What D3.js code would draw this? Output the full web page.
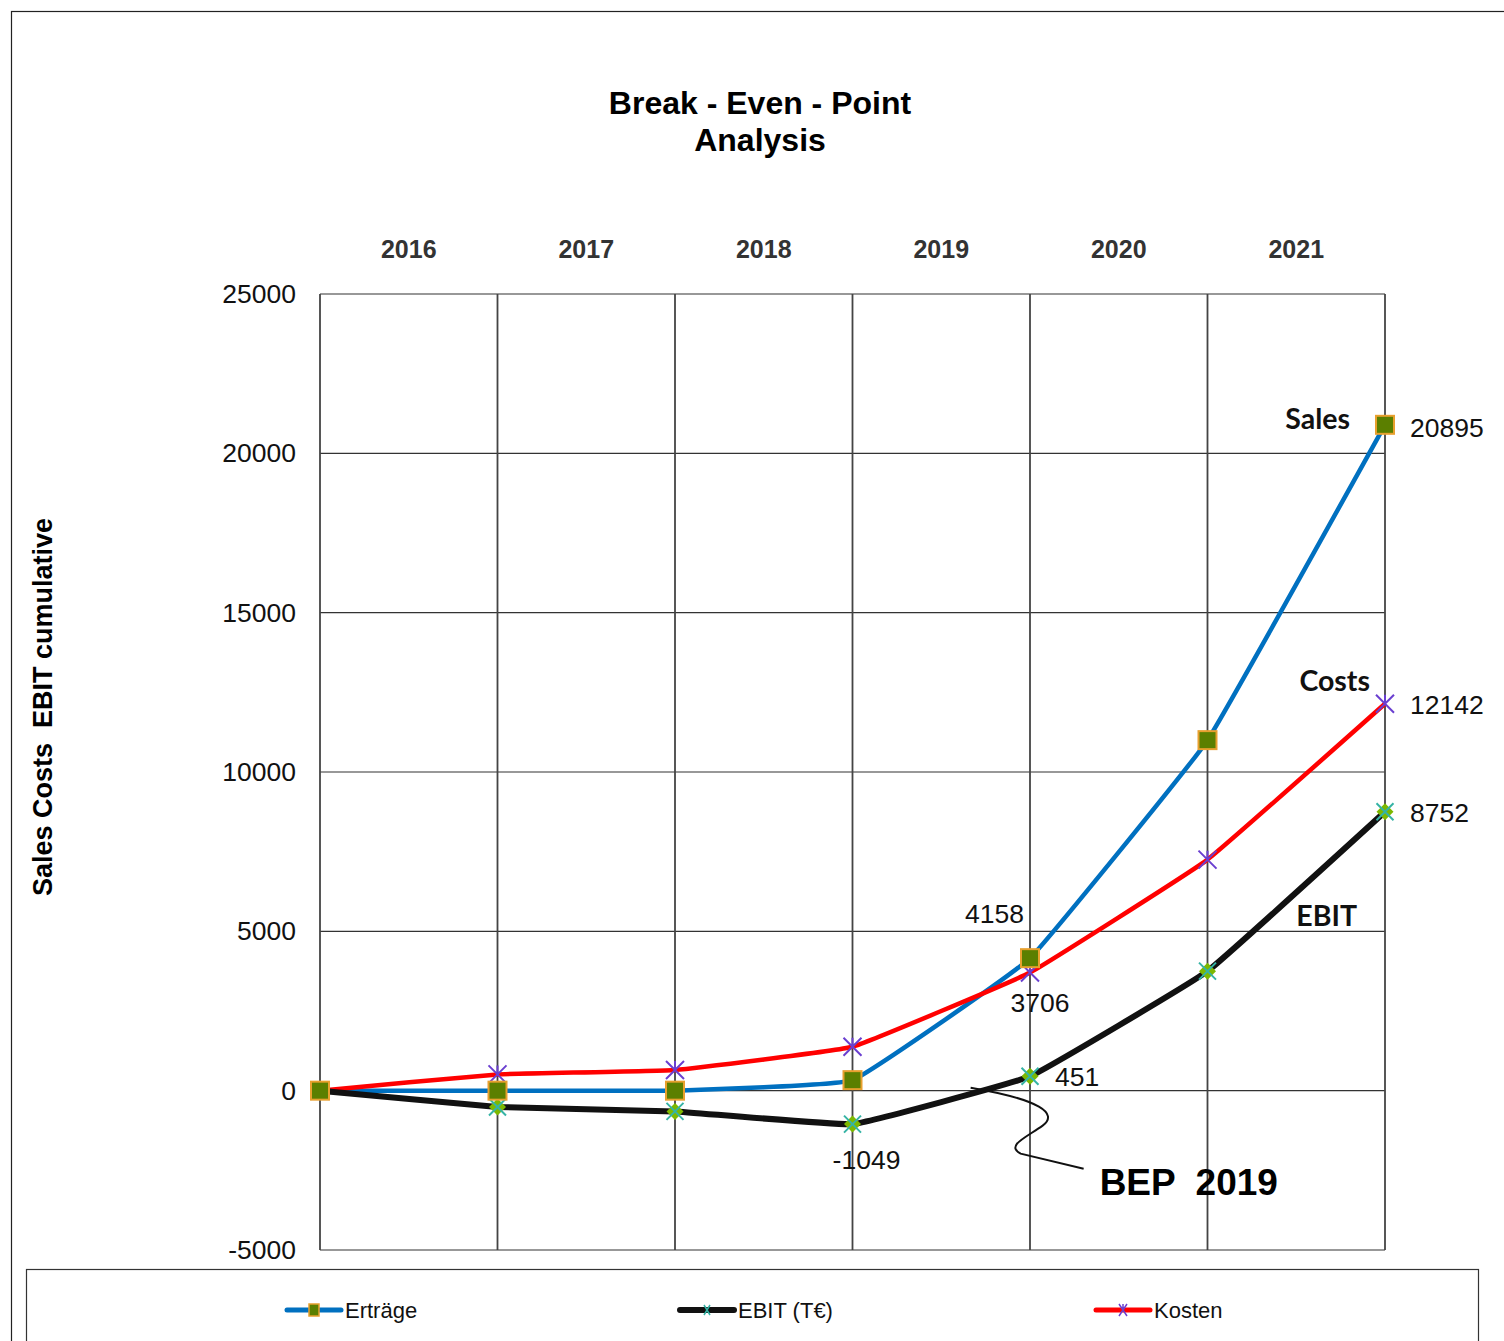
<!DOCTYPE html>
<html><head><meta charset="utf-8">
<script src="https://cdn.jsdelivr.net/npm/d3@7"></script>
<style>
html,body{margin:0;padding:0;background:#fff;}
svg{display:block;font-family:"Liberation Sans",Arial,sans-serif;}
</style></head>
<body>
<svg id="chart" width="1504" height="1341"></svg>
<script>
// ---- data ----
const years = ["2016","2017","2018","2019","2020","2021"];
const points = [0,1,2,3,4,5,6];           // cumulative points at period boundaries
const sales  = [0, 0, 0, 330, 4158, 11000, 20895];   // Erträge
const ebit   = [0, -510, -650, -1049, 451, 3750, 8752]; // EBIT (T€)
const costs  = [0, 510, 650, 1379, 3706, 7250, 12142]; // Kosten
const yTicks = [-5000, 0, 5000, 10000, 15000, 20000, 25000];
const legendNames = ["Erträge", "EBIT (T€)", "Kosten"];

const svg = d3.select("#chart");
const W = 1504, H = 1341;
const L = 320, R = 1385, T = 294, B = 1250;

// outer frame
svg.append("rect").attr("x",11.5).attr("y",11.5).attr("width",W).attr("height",H)
  .attr("fill","none").attr("stroke","#222").attr("stroke-width",1.2);

const x = d3.scaleLinear().domain([0,6]).range([L,R]);
const y = d3.scaleLinear().domain([-5000,25000]).range([B,T]);

// title
svg.append("text").attr("x",760).attr("y",114).attr("text-anchor","middle")
  .attr("font-size",32).attr("font-weight","bold").text("Break - Even - Point");
svg.append("text").attr("x",760).attr("y",151).attr("text-anchor","middle")
  .attr("font-size",32).attr("font-weight","bold").text("Analysis");

// gridlines
const grid = svg.append("g");
grid.selectAll("line.h").data(yTicks).join("line")
  .attr("x1",L).attr("x2",R).attr("y1",d=>y(d)).attr("y2",d=>y(d))
  .attr("stroke","#333").attr("stroke-width",1.2);
grid.selectAll("line.v").data(points).join("line")
  .attr("y1",T).attr("y2",B).attr("x1",d=>x(d)).attr("x2",d=>x(d))
  .attr("stroke","#444").attr("stroke-width",1.8);

// y axis labels
const yAxis = d3.axisLeft(y).tickValues(yTicks).tickSize(0).tickPadding(24).tickFormat(d=>String(d));
const ya = svg.append("g").attr("transform",`translate(${L},0)`).call(yAxis);
ya.select(".domain").remove();
ya.selectAll("text").attr("font-size",26.5).attr("font-family","Liberation Sans, Arial, sans-serif").attr("fill","#111");

// year labels (top)
svg.append("g").selectAll("text").data(years).join("text")
  .attr("x",(d,i)=>x(i+0.5)).attr("y",258).attr("text-anchor","middle")
  .attr("font-size",25).attr("font-weight","bold").attr("fill","#333").text(d=>d);

// y title
svg.append("text").attr("transform","translate(52,707) rotate(-90)")
  .attr("text-anchor","middle").attr("font-size",27).attr("font-weight","bold")
  .style("white-space","pre").text("Sales Costs  EBIT cumulative");

// lines
const line = d3.line().x((d,i)=>x(i)).y(d=>y(d)).curve(d3.curveCardinal.tension(0.75));
svg.append("path").datum(sales).attr("d",line).attr("fill","none").attr("stroke","#0070C0").attr("stroke-width",4.5);
svg.append("path").datum(costs).attr("d",line).attr("fill","none").attr("stroke","#FF0000").attr("stroke-width",4.5);
svg.append("path").datum(ebit).attr("d",line).attr("fill","none").attr("stroke","#111").attr("stroke-width",6);

// markers
function square(g, cx, cy, s){
  g.append("rect").attr("x",cx-s/2).attr("y",cy-s/2).attr("width",s).attr("height",s)
   .attr("fill","#5B7F00").attr("stroke","#E8A02E").attr("stroke-width",2);
}
function star(g, cx, cy, s){
  const h=s/2;
  g.append("path").attr("d",`M${cx-h},${cy-h}L${cx+h},${cy+h}M${cx-h},${cy+h}L${cx+h},${cy-h}M${cx},${cy-h}L${cx},${cy+h*0.2}`)
   .attr("stroke","#6A3FD0").attr("stroke-width",2).attr("fill","none");
}
function ebitMark(g, cx, cy, s){
  const h=s/2;
  g.append("path").attr("d",`M${cx},${cy-h}L${cx+h},${cy}L${cx},${cy+h}L${cx-h},${cy}Z`).attr("fill","#7DB800");
  g.append("path").attr("d",`M${cx-h},${cy-h}L${cx+h},${cy+h}M${cx-h},${cy+h}L${cx+h},${cy-h}`)
   .attr("stroke","#35B3A5").attr("stroke-width",2);
}
const mk = svg.append("g");
ebit.forEach((v,i)=>ebitMark(mk, x(i), y(v), 17));
costs.forEach((v,i)=>star(mk, x(i), y(v), 18));
sales.forEach((v,i)=>square(mk, x(i), y(v), 18));

// data labels
const lab = svg.append("g").attr("font-size",26.5).attr("fill","#111");
const labels = [
  {s:sales, i:6, dx:25, dy:12, a:"start"},
  {s:costs, i:6, dx:25, dy:10, a:"start"},
  {s:ebit,  i:6, dx:25, dy:10, a:"start"},
  {s:sales, i:4, dx:-6, dy:-35, a:"end"},
  {s:costs, i:4, dx:10, dy:39, a:"middle"},
  {s:ebit,  i:4, dx:25, dy:10, a:"start"},
  {s:ebit,  i:3, dx:14, dy:45, a:"middle"}
];
labels.forEach(l=>{
  lab.append("text").attr("x",x(l.i)+l.dx).attr("y",y(l.s[l.i])+l.dy)
    .attr("text-anchor",l.a).text(l.s[l.i]);
});

// series name annotations
const ann = svg.append("g").attr("font-family","Lato, 'Open Sans', sans-serif").attr("font-weight","bold").attr("font-size",28.5).attr("fill","#111");
ann.append("text").attr("x",x(6)-35).attr("y",y(sales[6])+4).attr("text-anchor","end").text("Sales");
ann.append("text").attr("x",x(6)-15).attr("y",y(costs[6])-13).attr("text-anchor","end").text("Costs");
ann.append("text").attr("x",x(6)-28).attr("y",y(ebit[6])+114).attr("text-anchor","end").text("EBIT");

// BEP callout
const t = ebit[3]/(ebit[3]-ebit[4]);
const bx = x(3 + t) - 6, by = y(0) - 3;
svg.append("path")
  .attr("d",`M${bx},${by} C${bx+70},${by+12} ${bx+88},${by+26} ${bx+72},${by+38} C${bx+55},${by+50} ${bx+35},${by+58} ${bx+50},${by+66} L${bx+113},${by+81}`)
  .attr("fill","none").attr("stroke","#111").attr("stroke-width",2);
svg.append("text").attr("x",bx+129).attr("y",by+107).attr("font-size",37).attr("font-weight","bold")
  .style("white-space","pre").text("BEP  2019");

// legend
const lg = svg.append("g");
lg.append("rect").attr("x",26.5).attr("y",1269.5).attr("width",1452).attr("height",120)
  .attr("fill","#fff").attr("stroke","#333").attr("stroke-width",1.2);
const legX = [287, 680, 1096];
const legCol = ["#0070C0","#111","#FF0000"];
legendNames.forEach((n,k)=>{
  const lx = legX[k], ly = 1310;
  lg.append("line").attr("x1",lx).attr("x2",lx+54).attr("y1",ly).attr("y2",ly)
    .attr("stroke",legCol[k]).attr("stroke-width",k===1?6:5).attr("stroke-linecap","round");
  const cx = lx+27;
  if(k===0){ lg.append("rect").attr("x",cx-5).attr("y",ly-6).attr("width",10).attr("height",12)
      .attr("fill","#5B7F00").attr("stroke","#E8A02E").attr("stroke-width",1.5); }
  if(k===1){ lg.append("path").attr("d",`M${cx-3},${ly-5}L${cx+3},${ly+5}M${cx-3},${ly+5}L${cx+3},${ly-5}`).attr("stroke","#35B3A5").attr("stroke-width",1.5); }
  if(k===2){ lg.append("path").attr("d",`M${cx-4},${ly-6}L${cx+4},${ly+6}M${cx-4},${ly+6}L${cx+4},${ly-6}M${cx},${ly-6}L${cx},${ly}`).attr("stroke","#6A3FD0").attr("stroke-width",1.5); }
  lg.append("text").attr("x",lx+58).attr("y",ly+8).attr("font-size",22).attr("fill","#111").text(n);
});
</script>
</body></html>
